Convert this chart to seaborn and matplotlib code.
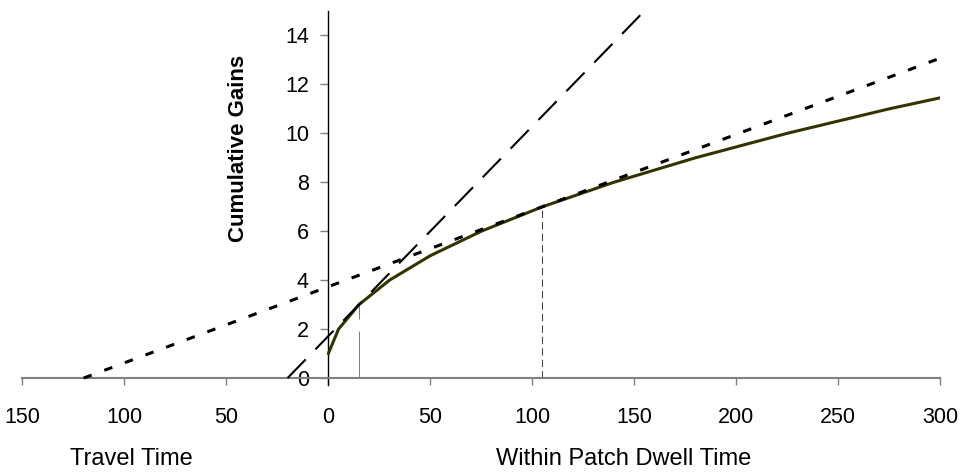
import matplotlib
matplotlib.use("Agg")
import matplotlib.pyplot as plt
import seaborn as sns
import pandas as pd

# gain curve (within patch dwell time vs cumulative gains)
gain_t = [0, 5, 15, 30, 50, 75, 105, 140, 180, 225, 275, 300]
gain_g = [1, 2, 3, 4, 5, 6, 7, 8, 9, 10, 11, 11.45]

# tangent for long travel time (dotted)
long_x = [-120, 300]
long_y = [0, 13.07]

# tangent for short travel time (long dash)
short_x = [-20, 155]
short_y = [0, 15]

# optimal dwell times
opt_short = [15, 3]
opt_long = [105, 7]

xticks = [-150, -100, -50, 0, 50, 100, 150, 200, 250, 300]
xtick_labels = ["150", "100", "50", "0", "50", "100", "150", "200", "250", "300"]
yticks = [0, 2, 4, 6, 8, 10, 12, 14]

sns.set_style("white")
plt.rcParams['font.family'] = ['Liberation Sans', 'DejaVu Sans']
plt.rcParams['text.color'] = 'black'
plt.rcParams['xtick.labelcolor'] = 'black'
plt.rcParams['ytick.labelcolor'] = 'black'

fig = plt.figure(figsize=(9.62, 4.72), dpi=100)
ax = fig.add_axes([22.5 / 962, 86.6 / 472, (940 - 22.5) / 962, (461 - 86.6) / 472])

gain = pd.DataFrame({'t': gain_t, 'g': gain_g})
sns.lineplot(data=gain, x='t', y='g', ax=ax, color='#333300', linewidth=2.2, zorder=3)

# optimal dwell time markers
ax.plot([opt_short[0], opt_short[0]], [0, opt_short[1]], color='#808080', linewidth=0.75,
        linestyle=(0, (45, 11.5)), zorder=2)
ax.plot([opt_long[0], opt_long[0]], [0, opt_long[1]], color='#404040', linewidth=0.75,
        linestyle=(0, (7, 4)), zorder=2)

sns.lineplot(x=long_x, y=long_y, ax=ax, color='black', linewidth=2.2,
             linestyle=(0, (2.8, 4.4)), zorder=4)
sns.lineplot(x=short_x, y=short_y, ax=ax, color='black', linewidth=1.5,
             linestyle=(0, (12.5, 6.7)), zorder=4)

ax.set_xlim(-150, 300)
ax.set_ylim(-0.3, 15)

for s in ['top', 'right']:
    ax.spines[s].set_visible(False)
ax.spines['left'].set_position(('data', 0))
ax.spines['left'].set_color('black')
ax.spines['left'].set_linewidth(1.0)
ax.spines['bottom'].set_position(('data', 0))
ax.spines['bottom'].set_color('#808080')
ax.spines['bottom'].set_linewidth(1.5)

ax.set_xticks(xticks)
ax.set_xticklabels(xtick_labels)
ax.set_yticks(yticks)
ax.tick_params(axis='x', direction='out', length=5, width=1, color='#808080',
               labelcolor='black', pad=16, labelsize=15.5, bottom=True)
ax.tick_params(axis='y', direction='out', length=6, width=1, color='#808080',
               labelcolor='black', pad=8, labelsize=15.5, left=True)
ax.set_xlabel('')
ax.set_ylabel('')

fig.text(239 / 962, 1 - 148 / 472, 'Cumulative Gains', rotation=90, fontsize=16,
         fontweight='bold', ha='center', va='center', color='black')
fig.text(131 / 962, 1 - 459 / 472, 'Travel Time', fontsize=17, ha='center', va='center',
         color='black')
fig.text(624 / 962, 1 - 459 / 472, 'Within Patch Dwell Time', fontsize=17,
         ha='center', va='center', color='black')

fig.savefig('out.png', dpi=100)
plt.close(fig)
